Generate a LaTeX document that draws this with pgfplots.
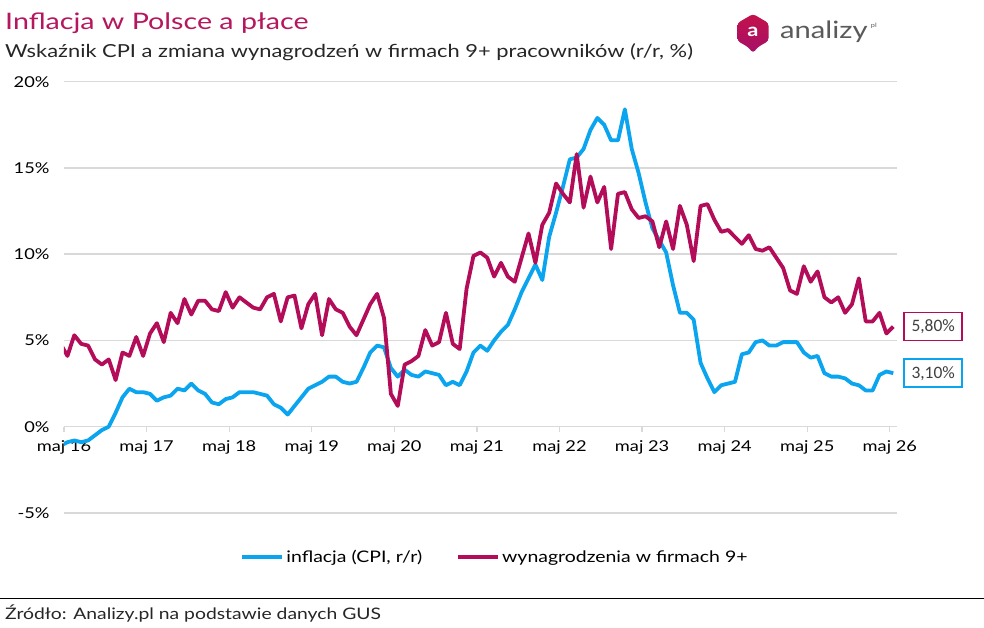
\documentclass[border=0pt]{standalone}
\usepackage{pgfplots}
\pgfplotsset{compat=1.18}
\usepackage{pgfplotstable}
\usepackage{fontspec}
\setmainfont{Lato}[FakeStretch=1.22]
\newfontfamily\titlefont{Lato}[FakeStretch=1.26]
\newfontfamily\calib{Carlito}

\definecolor{cpiblue}{HTML}{0AA5EE}
\definecolor{wagered}{HTML}{B30D5A}
\definecolor{titlered}{HTML}{B5165E}
\definecolor{gridgray}{HTML}{D9D9D9}
\definecolor{textgray}{HTML}{404040}
\definecolor{logogray}{HTML}{5A5A5A}

% month index: May 2016 = 0, points placed mid-month
\pgfplotstableread{
x cpi wage
-0.5 -1.1 4.8
0.5 -0.9 4.1
1.5 -0.8 5.3
2.5 -0.9 4.8
3.5 -0.8 4.7
4.5 -0.5 3.9
5.5 -0.2 3.6
6.5 0.0 3.9
7.5 0.8 2.7
8.5 1.7 4.3
9.5 2.2 4.1
10.5 2.0 5.2
11.5 2.0 4.1
12.5 1.9 5.4
13.5 1.5 6.0
14.5 1.7 4.9
15.5 1.8 6.6
16.5 2.2 6.0
17.5 2.1 7.4
18.5 2.5 6.5
19.5 2.1 7.3
20.5 1.9 7.3
21.5 1.4 6.8
22.5 1.3 6.7
23.5 1.6 7.8
24.5 1.7 6.9
25.5 2.0 7.5
26.5 2.0 7.2
27.5 2.0 6.9
28.5 1.9 6.8
29.5 1.8 7.5
30.5 1.3 7.7
31.5 1.1 6.1
32.5 0.7 7.5
33.5 1.2 7.6
34.5 1.7 5.7
35.5 2.2 7.1
36.5 2.4 7.7
37.5 2.6 5.3
38.5 2.9 7.4
39.5 2.9 6.8
40.5 2.6 6.6
41.5 2.5 5.8
42.5 2.6 5.3
43.5 3.4 6.2
44.5 4.3 7.1
45.5 4.7 7.7
46.5 4.6 6.3
47.5 3.4 1.9
48.5 2.9 1.2
49.5 3.3 3.6
50.5 3.0 3.8
51.5 2.9 4.1
52.5 3.2 5.6
53.5 3.1 4.7
54.5 3.0 4.9
55.5 2.4 6.6
56.5 2.6 4.8
57.5 2.4 4.5
58.5 3.2 8.0
59.5 4.3 9.9
60.5 4.7 10.1
61.5 4.4 9.8
62.5 5.0 8.7
63.5 5.5 9.5
64.5 5.9 8.7
65.5 6.8 8.4
66.5 7.8 9.8
67.5 8.6 11.2
68.5 9.4 9.5
69.5 8.5 11.7
70.5 11.0 12.4
71.5 12.4 14.1
72.5 13.9 13.5
73.5 15.5 13.0
74.5 15.6 15.8
75.5 16.1 12.7
76.5 17.2 14.5
77.5 17.9 13.0
78.5 17.5 13.9
79.5 16.6 10.3
80.5 16.6 13.5
81.5 18.4 13.6
82.5 16.1 12.6
83.5 14.7 12.1
84.5 13.0 12.2
85.5 11.5 11.9
86.5 10.8 10.4
87.5 10.1 11.9
88.5 8.2 10.3
89.5 6.6 12.8
90.5 6.6 11.7
91.5 6.2 9.6
92.5 3.7 12.8
93.5 2.8 12.9
94.5 2.0 12.0
95.5 2.4 11.3
96.5 2.5 11.4
97.5 2.6 11.0
98.5 4.2 10.6
99.5 4.3 11.1
100.5 4.9 10.3
101.5 5.0 10.2
102.5 4.7 10.4
103.5 4.7 9.8
104.5 4.9 9.2
105.5 4.9 7.9
106.5 4.9 7.7
107.5 4.3 9.3
108.5 4.0 8.4
109.5 4.1 9.0
110.5 3.1 7.5
111.5 2.9 7.2
112.5 2.9 7.5
113.5 2.8 6.6
114.5 2.5 7.1
115.5 2.4 8.6
116.5 2.1 6.1
117.5 2.1 6.1
118.5 3.0 6.6
119.5 3.2 5.4
120.5 3.1 5.8
}\datatab

\begin{document}
\begin{tikzpicture}
\path[use as bounding box] (0bp,0bp) rectangle (984bp,628bp);

% title block
\node[anchor=base west, inner sep=0, text=titlered, font=\titlefont\fontsize{22.8}{26}\selectfont]
  at (5bp,598.7bp) {Inflacja w Polsce a płace};
\node[anchor=base west, inner sep=0, text=black!85, font=\fontsize{18}{21}\selectfont]
  at (5bp,570.7bp) {Wskaźnik CPI a zmiana wynagrodzeń w firmach 9+ pracowników (r/r, \%)};

% logo
\shade[top color=titlered!80!red, bottom color=titlered!70!violet, rounded corners=3bp]
  (753bp,614bp) -- (768.5bp,605bp) -- (768.5bp,587bp) -- (758bp,581bp) -- (753bp,575bp)
  -- (748bp,581bp) -- (737.5bp,587bp) -- (737.5bp,605bp) -- cycle;
\node[text=white, font=\bfseries\fontsize{18}{19}\selectfont, inner sep=0] at (753bp,596.5bp) {a};
\node[anchor=base west, inner sep=0, text=logogray, font=\fontsize{24}{28}\selectfont]
  (logotxt) at (780bp,589bp) {analizy};
\node[anchor=north west, inner sep=0, text=logogray, font=\fontsize{6}{7}\selectfont]
  at ([xshift=3bp,yshift=-2bp]logotxt.north east) {pl};

\begin{axis}[
  at={(64bp,115.1bp)}, anchor=south west,
  scale only axis, width=832.7bp, height=431.2bp,
  xmin=0, xmax=121, ymin=-5, ymax=20,
  clip mode=individual,
  axis x line*=middle,
  axis y line*=left,
  hide obscured x ticks=false,
  x axis line style={-, draw=gridgray, line width=1.5bp},
  y axis line style={draw=none},
  xtick={0,12,...,120},
  xticklabels={maj 16,maj 17,maj 18,maj 19,maj 20,maj 21,maj 22,maj 23,maj 24,maj 25,maj 26},
  xtick align=outside,
  major tick length=5bp,
  xtick style={draw=gridgray, line width=1.2bp},
  ytick={-5,0,5,10,15,20},
  yticklabels={-5\%,0\%,5\%,10\%,15\%,20\%},
  ytick style={draw=none},
  ymajorgrids,
  grid style={draw=gridgray, line width=1.5bp},
  tick label style={font=\fontsize{15}{18}\selectfont, text=black},
  xticklabel style={yshift=-5bp},
  yticklabel style={xshift=-11bp},
  legend style={at={(0.5176,-0.102)}, anchor=center, draw=none, fill=none,
    font=\fontsize{16}{19}\selectfont, legend columns=2,
    /tikz/every even column/.append style={column sep=32bp},
    inner sep=0pt},
  legend image code/.code={\draw[#1, line width=4bp] (0bp,0bp) -- (40bp,0bp);},
  legend cell align=left,
]
\addplot[cpiblue, line width=3.8bp, line join=round] table[x=x, y=cpi]{\datatab};
\addlegendentry{inflacja (CPI, r/r)}
\addplot[wagered, line width=3.8bp, line join=round] table[x=x, y=wage]{\datatab};
\addlegendentry{wynagrodzenia w firmach 9+}

\node[draw=wagered, line width=1.5bp, fill=white, text=textgray,
  font=\calib\fontsize{17.5}{20}\selectfont, minimum width=58bp, minimum height=28bp, inner sep=0]
  at (axis cs:126.3,5.8) {5,80\%};
\node[draw=cpiblue, line width=1.5bp, fill=white, text=textgray,
  font=\calib\fontsize{17.5}{20}\selectfont, minimum width=58bp, minimum height=28bp, inner sep=0]
  at (axis cs:126.3,3.1) {3,10\%};
\end{axis}

% source line
\draw[black, line width=1bp] (0bp,29.7bp) -- (984bp,29.7bp);
\node[anchor=base west, inner sep=0, text=black!85, font=\fontsize{15.9}{18}\selectfont]
  at (5bp,9bp) {Źródło: Analizy.pl na podstawie danych GUS};
\end{tikzpicture}
\end{document}
